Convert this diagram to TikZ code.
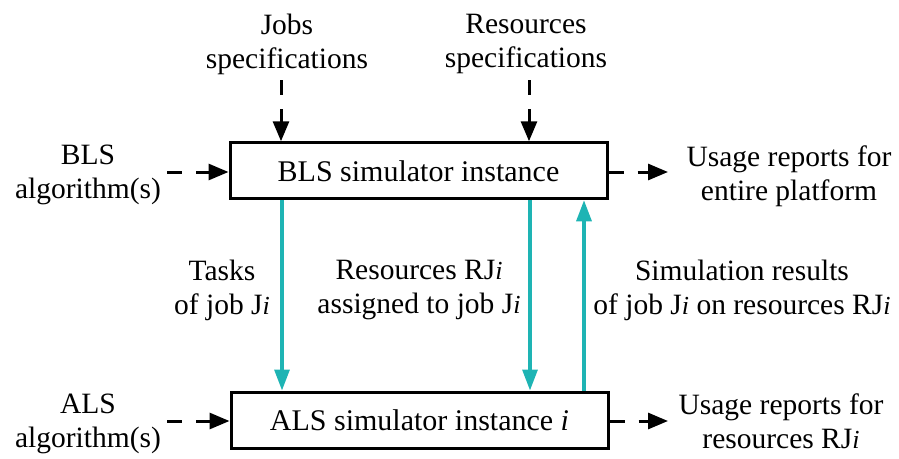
\documentclass[tikz,border=0pt]{standalone}
\usepackage{fontspec}
\IfFontExistsTF{LiberationSerif-Regular.ttf}{%
  \setmainfont{LiberationSerif-Regular.ttf}[ItalicFont=LiberationSerif-Italic.ttf,BoldFont=LiberationSerif-Bold.ttf]}{%
  \setmainfont{Liberation Serif}}
\usetikzlibrary{arrows.meta}
\definecolor{tealc}{RGB}{30,180,180}
\newcommand{\Ii}{{\fontsize{26}{30}\selectfont\itshape i}}
\tikzset{
  lbl/.style={align=center, inner sep=0pt, font=\fontsize{29.5}{34}\selectfont},
  simbox/.style={draw=black, line width=3pt, minimum width=377pt, minimum height=56pt, inner sep=0pt, font=\fontsize{30}{34}\selectfont},
  dasharrow/.style={line width=3pt, dash pattern=on 15pt off 14pt, -{Triangle[length=20pt,width=16pt]}},
  tealarrow/.style={draw=tealc, line width=3.2pt, -{Triangle[length=21pt,width=15pt]}, tealc}
}
\begin{document}
\begin{tikzpicture}[x=1pt,y=-1pt]
\useasboundingbox (0,0) rectangle (899,458);
% boxes
\node[simbox] (bls) at (418.5,170.75) {BLS simulator instance};
\node[simbox] (als) at (419.5,420) {ALS simulator instance \textit{i}};
% labels
\node[lbl] (jobs) at (287,44) {Jobs\\specifications};
\node[lbl] (res) at (526,44) {Resources\\specifications};
\node[lbl] (blsalg) at (88,175) {BLS\\algorithm(s)};
\node[lbl] (usage1) at (789,176) {Usage reports for\\entire platform};
\node[lbl] (alsalg) at (88,424) {ALS\\algorithm(s)};
\node[lbl] (usage2) at (781,421) {Usage reports for\\resources RJ\Ii};
\node[lbl] (tasks) at (222,290) {Tasks\\of job J\Ii};
\node[lbl] (resrj) at (419,290) {Resources RJ\Ii\\assigned to job J\Ii};
\node[lbl] (simres) at (742,290) {Simulation results\\of job J\Ii{} on resources RJ\Ii};
% coordinates
\coordinate (jtop) at (281,80);
\coordinate (rtop) at (529,80);
\coordinate (bin) at (167,172);
\coordinate (bout) at (668,172);
\coordinate (ain) at (167,421);
\coordinate (aout) at (668,421);
\coordinate (t1) at (282,0);
\coordinate (t2) at (530,0);
\coordinate (t3) at (584,0);
% dashed arrows
\draw[dasharrow] (jtop) -- (jtop |- bls.north);
\draw[dasharrow] (rtop) -- (rtop |- bls.north);
\draw[dasharrow] (bin) -- (bin -| bls.west);
\draw[dasharrow] (bin -| bls.east) -- (bout);
\draw[dasharrow] (ain) -- (ain -| als.west);
\draw[dasharrow] (ain -| als.east) -- (aout);
% teal arrows
\draw[tealarrow] (t1 |- bls.south) -- (t1 |- als.north);
\draw[tealarrow] (t2 |- bls.south) -- (t2 |- als.north);
\draw[tealarrow] (t3 |- als.north) -- (t3 |- bls.south);
\end{tikzpicture}
\end{document}
